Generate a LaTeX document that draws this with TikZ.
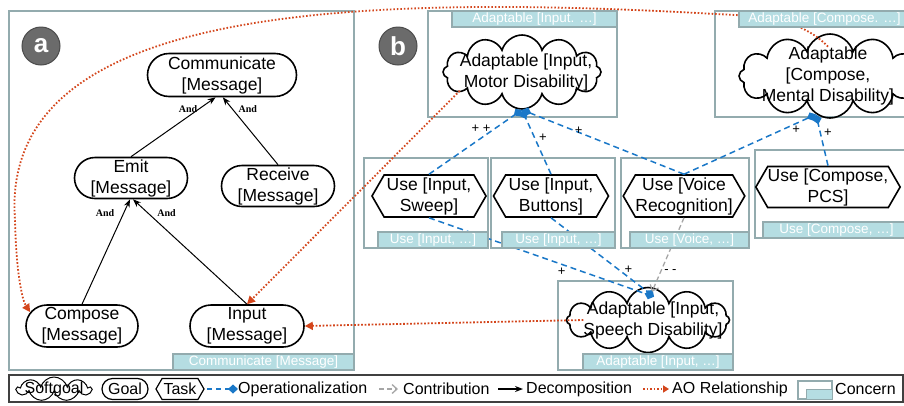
\documentclass[tikz,border=0pt]{standalone}
\usepackage{fontspec}
\setmainfont{Liberation Sans}
\newfontfamily\andfont{Liberation Serif}
\usetikzlibrary{arrows.meta, shapes.misc, shapes.symbols, calc}

\definecolor{concernline}{HTML}{93ABAE}
\definecolor{concernfill}{HTML}{B5DDE2}
\definecolor{oplink}{HTML}{1A78C8}
\definecolor{aolink}{HTML}{D4461C}
\definecolor{badgegray}{HTML}{6B6B6B}

\tikzset{
  goal/.style={rounded rectangle, draw, line width=1.6pt, inner sep=0pt, align=center, font=\fontsize{17.5}{21}\selectfont},
  softgoal/.style={cloud, cloud puffs=12, cloud ignores aspect, draw, line width=1.6pt, inner sep=0pt},
  task/.style={signal, signal to=west and east, signal pointer angle=120, draw, line width=1.6pt, inner sep=0pt, align=center, font=\fontsize{17.5}{21}\selectfont},
  gtext/.style={inner sep=0pt, align=center, font=\fontsize{17.5}{21}\selectfont},
  concern/.style={draw=concernline, line width=2.6pt},
  tab/.style={fill=concernfill, draw=concernline, line width=1.8pt, text=white, inner sep=0pt, outer sep=0pt, minimum height=16pt, font=\fontsize{13.5}{15}\selectfont},
  badge/.style={circle, fill=badgegray, draw=black!70, line width=1pt, minimum size=38pt, inner sep=0pt, text=white, font=\fontsize{26}{26}\selectfont\bfseries},
  dec/.style={-{Stealth[length=8pt,width=6pt]}, line width=1pt},
  op/.style={oplink, dash pattern=on 6pt off 4pt, line width=1.5pt, -{Diamond[length=10pt,width=9pt]}},
  contrib/.style={black!35, dash pattern=on 5pt off 3pt, line width=1.3pt, -{Straight Barb[length=5pt,width=9pt]}},
  ao/.style={aolink, line width=1.8pt, dash pattern=on 1.6pt off 1.9pt, -{Triangle[length=8pt,width=8pt]}},
  andlbl/.style={inner sep=1pt, text=black, font=\andfont\bfseries\fontsize{10}{12}\selectfont},
  pluslbl/.style={inner sep=1pt, text=black, font=\fontsize{13}{13}\selectfont},
  legtext/.style={inner sep=0pt, anchor=west, font=\fontsize{16}{18}\selectfont},
}

\begin{document}
\begin{tikzpicture}[x=1pt, y=-1pt]
  \useasboundingbox (0,0) rectangle (904,405);
  \fill[white] (0,0) rectangle (904,405);

  % concern boxes
  \foreach \xa/\ya/\xb/\yb in {9/11/354/370, 428/11/617/117, 715/11/910/117, 364/158/488/248,
                               491/158/615/248, 621/158/749/248, 755/150/910/238, 558/281/733/370}
    \draw[concern] (\xa,\ya) rectangle (\xb,\yb);

  \node[badge] at (41,46) (badge-a) {a};
  \node[badge] at (398,46) (badge-b) {b};

  % panel a: goal model
  \node[goal, minimum width=149pt, minimum height=43pt] at (222,75) (comm) {Communicate\\{[Message]}};
  \node[goal, minimum width=113pt, minimum height=41pt] at (131,178) (emit) {Emit\\{[Message]}};
  \node[goal, minimum width=113pt, minimum height=41pt] at (278,186) (receive) {Receive\\{[Message]}};
  \node[goal, minimum width=112pt, minimum height=42pt] at (82,326) (compose) {Compose\\{[Message]}};
  \node[goal, minimum width=114pt, minimum height=42pt] at (247,326) (input) {Input\\{[Message]}};

  \draw[dec] (emit.north) -- node[andlbl, pos=0.8, left=0pt] (and-1) {And} (comm.254);
  \draw[dec] (receive.north) -- node[andlbl, pos=0.83, right=5pt] (and-2) {And} (comm.272);
  \draw[dec] (compose.north) -- node[andlbl, pos=0.87, left=8pt] (and-3) {And} ([xshift=-1pt]emit.south);
  \draw[dec] (input.north) -- node[andlbl, pos=0.87, right=8pt] (and-4) {And} ([xshift=2pt]emit.south);

  % panel b: softgoals and tasks
  \node[softgoal, minimum width=158pt, minimum height=74pt] at (522,72) (motor) {};
  \node[gtext] at (526,72) (motor-t) {Adaptable [Input,\\Motor Disability]};
  \node[softgoal, minimum width=182pt, minimum height=84pt] at (830,76) (cm) {};
  \node[gtext] at (828,76) (cm-t) {Adaptable\\{[Compose,}\\Mental Disability]};
  \node[softgoal, minimum width=163pt, minimum height=65pt] at (648,320) (speech) {};
  \node[gtext] at (653,320) (speech-t) {Adaptable [Input,\\Speech Disability]};

  \node[task, minimum width=114pt, minimum height=42pt] at (429,196) (sweep) {Use [Input,\\Sweep]};
  \node[task, minimum width=115pt, minimum height=42pt] at (551,196) (buttons) {Use [Input,\\Buttons]};
  \node[task, minimum width=118pt, minimum height=42pt] at (684,196) (voice) {Use [Voice\\Recognition]};
  \node[task, minimum width=137pt, minimum height=41pt] at (828,187) (pcs) {Use [Compose,\\PCS]};

  % links
  \draw[op] (sweep.north) -- node[pluslbl, pos=0.7, left=2pt] (p-1) {+ +} (motor.south);
  \draw[op] (buttons.north) -- node[pluslbl, pos=0.57, right=3pt] (p-2) {+} (motor.south);
  \draw[op] (voice.north) -- node[pluslbl, pos=0.65, above=-4pt] (p-3) {+} (motor.south);
  \draw[op] (voice.north) -- node[pluslbl, pos=0.85, below=1pt] (p-4) {+} (cm.250);
  \draw[op] (pcs.north) -- node[pluslbl, pos=0.64, right=2pt] (p-5) {+} (cm.250);
  \draw[op] (sweep.south) -- node[pluslbl, pos=0.59, below=2pt] (p-6) {+} ([xshift=6pt,yshift=-10pt]speech.north);
  \draw[op] (buttons.south) -- node[pluslbl, pos=0.66, right=4pt] (p-7) {+} ([xshift=6pt,yshift=-10pt]speech.north);
  \draw[contrib] (voice.south) -- node[pluslbl, pos=0.73, right=2pt] (p-8) {- -} ([xshift=4pt,yshift=-5pt]speech.north);

  \draw[ao] (motor-t.south west) -- (input.north);
  \draw[ao] (speech-t.west) -- (input.east);
  \draw[ao] (cm-t.north) .. controls (800,18) and (760,16) .. (715,14)
                         .. controls (300,-10) and (0,20) .. (15,220)
                         .. controls (16,270) and (22,300) .. (compose.165);

  % concern tabs
  \node[tab, minimum width=181pt, anchor=south east] at (354,370) (tab-a) {Communicate [Message]};
  \node[tab, minimum width=165pt, anchor=north east] at (617,11) (tab-motor) {Adaptable [Input. …]};
  \node[tab, minimum width=171pt, anchor=north east] at (910,11) (tab-cm) {Adaptable [Compose. …]};
  \node[tab, minimum width=110pt, anchor=south east] at (488,248) (tab-sweep) {Use [Input, …]};
  \node[tab, minimum width=113pt, anchor=south east] at (615,248) (tab-buttons) {Use [Input, …]};
  \node[tab, minimum width=119pt, anchor=south east] at (749,248) (tab-voice) {Use [Voice, …]};
  \node[tab, minimum width=147pt, anchor=south east] at (910,238) (tab-pcs) {Use [Compose, …]};
  \node[tab, minimum width=150pt, anchor=south east] at (733,370) (tab-speech) {Adaptable [Input, …]};

  % legend
  \draw[black!75, line width=1.2pt, fill=white] (9,375) rectangle (903,402);
  \node[softgoal, line width=1pt, cloud puffs=9, minimum width=74pt, minimum height=24pt] at (54,389) (lg-soft) {};
  \node[inner sep=0pt, font=\fontsize{16}{18}\selectfont] at (54,389) (lg-soft-t) {Softgoal};
  \node[goal, line width=1.2pt, minimum width=46pt, minimum height=21pt, font=\fontsize{16}{18}\selectfont] at (125,389) (lg-goal) {Goal};
  \node[task, line width=1.2pt, minimum width=48pt, minimum height=21pt, font=\fontsize{16}{18}\selectfont] at (180,389) (lg-task) {Task};
  \coordinate (lg-op-a) at (207,389);
  \coordinate (lg-op-b) at (238,389);
  \draw[op, dash pattern=on 5pt off 4pt] (lg-op-a) -- (lg-op-b);
  \node[legtext] at (238,389) (lg-op) {Operationalization};
  \coordinate (lg-co-a) at (379,389);
  \coordinate (lg-co-b) at (398,389);
  \draw[contrib] (lg-co-a) -- (lg-co-b);
  \node[legtext] at (403,389) (lg-co) {Contribution};
  \coordinate (lg-de-a) at (498,389);
  \coordinate (lg-de-b) at (523,389);
  \draw[dec, line width=1.4pt] (lg-de-a) -- (lg-de-b);
  \node[legtext] at (526,389) (lg-de) {Decomposition};
  \coordinate (lg-ao-a) at (643,389);
  \coordinate (lg-ao-b) at (669,389);
  \draw[ao, -{Triangle[length=6pt,width=7pt]}] (lg-ao-a) -- (lg-ao-b);
  \node[legtext] at (672,389) (lg-ao) {AO Relationship};
  \draw[concernline, line width=1.2pt] (798,381) rectangle (832,399);
  \draw[concernline, fill=concernfill, line width=1pt] (806,389) rectangle (832,399);
  \node[legtext] at (835,389) (lg-cn) {Concern};
\end{tikzpicture}
\end{document}
